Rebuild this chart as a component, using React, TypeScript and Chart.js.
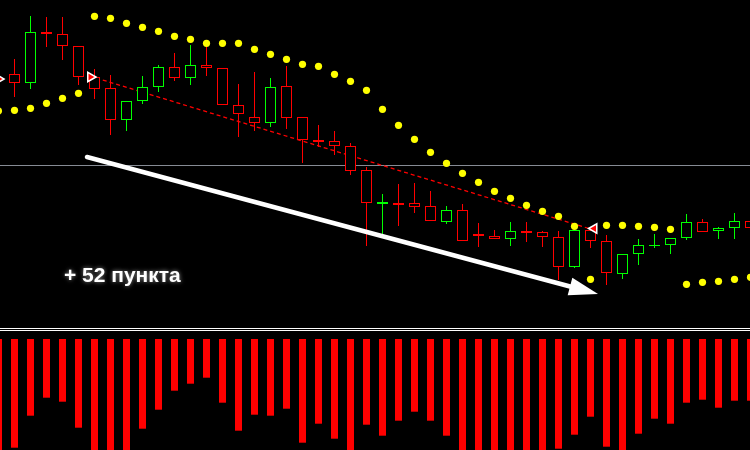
import React, { useEffect, useRef } from 'react';
import { Chart, registerables } from 'chart.js';

Chart.register(...registerables);

// ---- axis ranges (candle index on x, price in points on y) ----
const X_MIN = -0.90625;
const X_MAX = 45.96875;
const PRICE_MIN = 0;
const PRICE_MAX = 450;
const HIST_MIN = -111;
const HIST_MAX = 339;

// ---- candles: index 0..46 ----
const FIRST_CANDLE = 0;
const opens = [
  376, 367, 418, 416, 404, 373, 362, 330, 349, 363,
  383, 372, 385, 382, 345, 333, 327, 364, 333, 310,
  309, 304, 280, 246, 247, 247, 244, 228, 240, 216,
  214, 211, 219, 218, 213, 183, 220, 209, 176, 196,
  204, 205, 212, 228, 219, 222, 229,
];
const highs = [
  391, 434, 433, 433, 404, 381, 375, 349, 374, 385,
  397, 405, 405, 382, 366, 378, 372, 384, 333, 325,
  319, 307, 283, 256, 266, 267, 259, 244, 246, 227,
  220, 228, 228, 219, 219, 220, 220, 215, 196, 211,
  216, 212, 236, 231, 223, 237, 231,
];
const lows = [
  353, 361, 403, 390, 365, 351, 315, 319, 346, 358,
  369, 365, 374, 345, 313, 319, 323, 321, 287, 303,
  295, 275, 204, 216, 224, 237, 229, 226, 209, 203,
  211, 204, 208, 203, 170, 182, 202, 165, 171, 185,
  202, 196, 210, 218, 211, 211, 219,
];
const closes = [
  367, 418, 416, 404, 373, 361, 330, 349, 363, 383,
  372, 385, 382, 345, 336, 327, 363, 332, 310, 308,
  304, 279, 247, 248, 245, 243, 229, 240, 209, 214,
  211, 219, 217, 213, 183, 220, 209, 177, 196, 205,
  205, 212, 228, 218, 222, 229, 222,
];

// ---- indicators: index -1..46 ----
const FIRST_INDICATOR = -1;
const sarValues = [
  339, 339.7, 341.7, 346.7, 351.7, 356.7, 433.7, 431.7, 426.7, 422.7,
  418.7, 413.7, 410.7, 406.7, 406.7, 406.7, 400.7, 395.7, 390.7, 385.7,
  383.7, 375.7, 368.7, 359.7, 340.7, 324.7, 310.7, 297.7, 286.7, 276.7,
  267.7, 258.7, 251.7, 244.7, 238.7, 233.7, 223.7, 170.7, 224.7, 224.7,
  223.7, 222.7, 220.7, 165.7, 167.7, 168.7, 170.7, 172.7,
];
const histValues = [
  -118, -108.7, -76.7, -58.7, -62.7, -88.7, -120, -125, -118, -89.7,
  -70.7, -51.7, -44.7, -38.7, -63.7, -91.7, -75.7, -76.7, -69.7, -103.7,
  -84.7, -99.7, -115, -85.7, -96.7, -81.7, -72.7, -81.7, -96.7, -120,
  -130, -125, -135, -128, -122, -109.7, -95.7, -77.7, -107.7, -115,
  -94.7, -79.7, -84.7, -63.7, -60.7, -68.7, -61.7, -61.7,
];

// ---- signals & annotations ----
const markerX = [-1.0, 4.75, 36.22];
const markerY = [371, 373, 221.5];
const markerRotation = [90, 90, -90];
const signalLineX = [5.1, 35.9];
const signalLineY = [372, 221.5];
const levelPrice = 284.5;
const separatorValues = [10.5, 8.5];
const arrowX = [4.53, 36.47];
const arrowY = [293, 156];
const labelText = '+ 52 пункта';
const labelX = 3.09;
const labelY = 168.3;

const RED = '#ff0000';
const GREEN = '#00ff00';

const candleIdx = opens.map((_, i) => FIRST_CANDLE + i);
const candleColor = opens.map((o, i) => (closes[i] >= o ? GREEN : RED));

const overlayPlugin = {
  id: 'overlay',
  afterDatasetsDraw(chart: any) {
    const ctx = chart.ctx;
    const xs = chart.scales.x;
    const ys = chart.scales.y;
    const x1 = xs.getPixelForValue(arrowX[0]);
    const y1 = ys.getPixelForValue(arrowY[0]);
    const x2 = xs.getPixelForValue(arrowX[1]);
    const y2 = ys.getPixelForValue(arrowY[1]);
    const dx = x2 - x1;
    const dy = y2 - y1;
    const len = Math.hypot(dx, dy);
    const ux = dx / len;
    const uy = dy / len;
    const nx = -uy;
    const ny = ux;
    const headLen = 29;
    const headHalf = 9;
    const bx = x2 - ux * headLen;
    const by = y2 - uy * headLen;
    ctx.save();
    ctx.strokeStyle = '#ffffff';
    ctx.fillStyle = '#ffffff';
    ctx.lineWidth = 4.5;
    ctx.lineCap = 'round';
    ctx.beginPath();
    ctx.moveTo(x1, y1);
    ctx.lineTo(bx + ux * 3, by + uy * 3);
    ctx.stroke();
    ctx.beginPath();
    ctx.moveTo(x2, y2);
    ctx.lineTo(bx - nx * headHalf, by - ny * headHalf);
    ctx.lineTo(bx + nx * headHalf, by + ny * headHalf);
    ctx.closePath();
    ctx.fill();

    ctx.font = 'bold 21px "Liberation Sans", Arial, sans-serif';
    ctx.textBaseline = 'alphabetic';
    ctx.textAlign = 'left';
    ctx.shadowColor = 'rgba(255,255,255,0.55)';
    ctx.shadowBlur = 4;
    ctx.fillText(labelText, xs.getPixelForValue(labelX), ys.getPixelForValue(labelY));
    ctx.restore();
  },
};

export default function App() {
  const ref = useRef<HTMLCanvasElement>(null);
  useEffect(() => {
    if (!ref.current) return;
    const barCommon = { grouped: false, inflateAmount: 0, borderSkipped: false };
    const chart = new Chart(ref.current, {
      type: 'bar',
      data: {
        datasets: [
          {
            type: 'line',
            label: 'signals',
            order: 0,
            data: markerX.map((x, i) => ({ x, y: markerY[i] })),
            showLine: false,
            pointStyle: 'triangle',
            rotation: markerRotation,
            pointRadius: 5.5,
            pointBackgroundColor: RED,
            pointBorderColor: '#ffffff',
            pointBorderWidth: 1.5,
            yAxisID: 'y',
          } as any,
          {
            type: 'line',
            label: 'SAR',
            order: 1,
            data: sarValues.map((v, i) => ({ x: FIRST_INDICATOR + i, y: v })),
            showLine: false,
            pointRadius: 3.6,
            pointBackgroundColor: '#ffff00',
            pointBorderWidth: 0,
            yAxisID: 'y',
          } as any,
          {
            type: 'bar',
            label: 'bodies',
            order: 2,
            data: candleIdx.map((x, i) => ({ x, y: [opens[i], closes[i]] })),
            backgroundColor: '#000000',
            borderColor: candleColor,
            borderWidth: 1,
            barThickness: 11,
            yAxisID: 'y',
            ...barCommon,
          } as any,
          {
            type: 'bar',
            label: 'wicks',
            order: 3,
            data: candleIdx.map((x, i) => ({ x, y: [lows[i], highs[i]] })),
            backgroundColor: candleColor,
            borderWidth: 0,
            barThickness: 1,
            yAxisID: 'y',
            ...barCommon,
          } as any,
          {
            type: 'line',
            label: 'signal line',
            order: 4,
            data: signalLineX.map((x, i) => ({ x, y: signalLineY[i] })),
            borderColor: RED,
            borderWidth: 1.3,
            borderDash: [4, 3],
            pointRadius: 0,
            yAxisID: 'y',
          } as any,
          {
            type: 'line',
            label: 'level',
            order: 5,
            data: [
              { x: X_MIN, y: levelPrice },
              { x: X_MAX, y: levelPrice },
            ],
            borderColor: '#868b94',
            borderWidth: 1,
            pointRadius: 0,
            yAxisID: 'y',
          } as any,
          {
            type: 'bar',
            label: 'histogram',
            order: 6,
            data: histValues.map((v, i) => ({ x: FIRST_INDICATOR + i, y: v })),
            backgroundColor: RED,
            borderWidth: 0,
            barThickness: 7,
            yAxisID: 'y2',
            ...barCommon,
          } as any,
          ...separatorValues.map(
            (v, i) =>
              ({
                type: 'line',
                label: 'separator ' + i,
                order: 7 + i,
                data: [
                  { x: X_MIN, y: v },
                  { x: X_MAX, y: v },
                ],
                borderColor: '#ffffff',
                borderWidth: 1,
                pointRadius: 0,
                yAxisID: 'y2',
              } as any)
          ),
        ],
      },
      options: {
        animation: false,
        responsive: false,
        maintainAspectRatio: false,
        devicePixelRatio: 1,
        events: [],
        layout: { padding: 0, autoPadding: false },
        plugins: {
          legend: { display: false },
          tooltip: { enabled: false },
          title: { display: false },
        },
        scales: {
          x: {
            type: 'linear',
            min: X_MIN,
            max: X_MAX,
            offset: false,
            display: false,
            grid: { display: false },
          },
          y: {
            type: 'linear',
            min: PRICE_MIN,
            max: PRICE_MAX,
            beginAtZero: false,
            display: false,
            grid: { display: false },
          },
          y2: {
            type: 'linear',
            min: HIST_MIN,
            max: HIST_MAX,
            beginAtZero: false,
            display: false,
            grid: { display: false },
          },
        },
      } as any,
      plugins: [overlayPlugin],
    });
    return () => chart.destroy();
  }, []);

  return (
    <div style={{ position: 'fixed', left: 0, top: 0, width: 750, height: 450, background: '#000000' }}>
      <canvas ref={ref} width={750} height={450} style={{ display: 'block', width: 750, height: 450 }} />
    </div>
  );
}
